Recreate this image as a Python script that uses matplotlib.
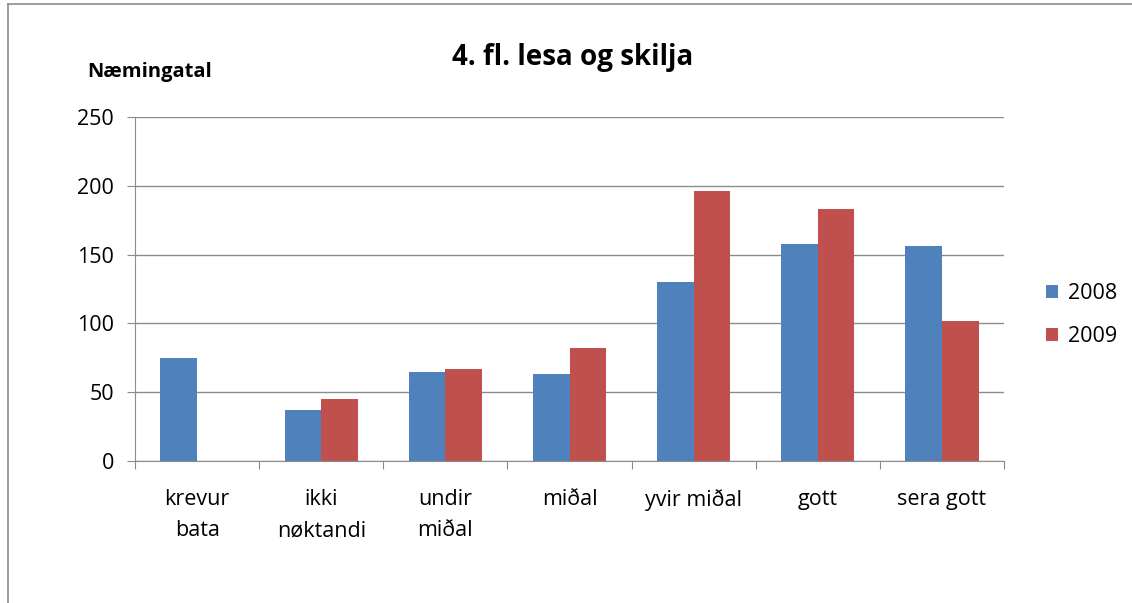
import matplotlib
matplotlib.use("Agg")
import matplotlib.pyplot as plt
from matplotlib.lines import Line2D
import numpy as np

categories = ["krevur\nbata", "ikki\nnøktandi", "undir\nmiðal", "miðal", "yvir miðal", "gott", "sera gott"]
series_2008 = [75, 37, 65, 63, 130, 158, 156]
series_2009 = [0, 45, 67, 82, 196, 183, 102]
yticks = [0, 50, 100, 150, 200, 250]

plt.rcParams['font.family'] = ['Open Sans', 'DejaVu Sans']

W, H = 1132, 603
fig = plt.figure(figsize=(W/100, H/100), dpi=100)
ax = fig.add_axes([135/W, 1-461/H, (1004-135)/W, (461-117)/H])

x = np.arange(len(categories))
bw = 0.295
ax.bar(x - bw/2, series_2008, bw, color='#4F81BD', label='2008', zorder=3)
ax.bar(x + bw/2, series_2009, bw, color='#C0504D', label='2009', zorder=3)

ax.set_xlim(-0.5, len(categories) - 0.5)
ax.set_ylim(0, 250)
ax.set_yticks(yticks)
ax.set_yticklabels([str(v) for v in yticks], fontsize=15.5)
ax.yaxis.grid(True, color='#8c8c8c', linewidth=1, zorder=0)
ax.set_axisbelow(True)

ax.set_xticks(np.arange(-0.5, len(categories)), minor=False)
ax.set_xticklabels([])
ax.set_xticks(x, minor=True)
ax.set_xticklabels(categories, minor=True, fontsize=15.5, linespacing=1.65, va='top')
ax.tick_params(axis='x', which='minor', length=0, pad=20)
ax.tick_params(axis='x', which='major', length=6, color='#8c8c8c')
ax.tick_params(axis='y', length=6, color='#8c8c8c', pad=9)

for s in ['top', 'right']:
    ax.spines[s].set_visible(False)
ax.spines['left'].set_color('#8c8c8c')
ax.spines['bottom'].set_color('#8c8c8c')

fig.text(573/W, 1-58/H, "4. fl. lesa og skilja", fontsize=20, fontweight='bold', ha='center', va='center')
fig.text(87/W, 1-72/H, "Næmingatal", fontsize=14.5, fontweight='bold', ha='left', va='center')

leg = fig.legend(loc='upper left', bbox_to_anchor=(1027/W, 1-264/H), frameon=False, fontsize=15.5,
                 handlelength=0.55, handleheight=0.55, labelspacing=1.0, handletextpad=0.45)

fig.add_artist(Line2D([8/W, 8/W], [0, 1-4/H], color='#8c8c8c', linewidth=1.2, transform=fig.transFigure))
fig.add_artist(Line2D([8/W, 1], [1-4/H, 1-4/H], color='#8c8c8c', linewidth=1.2, transform=fig.transFigure))

fig.savefig("out.png", dpi=100)
